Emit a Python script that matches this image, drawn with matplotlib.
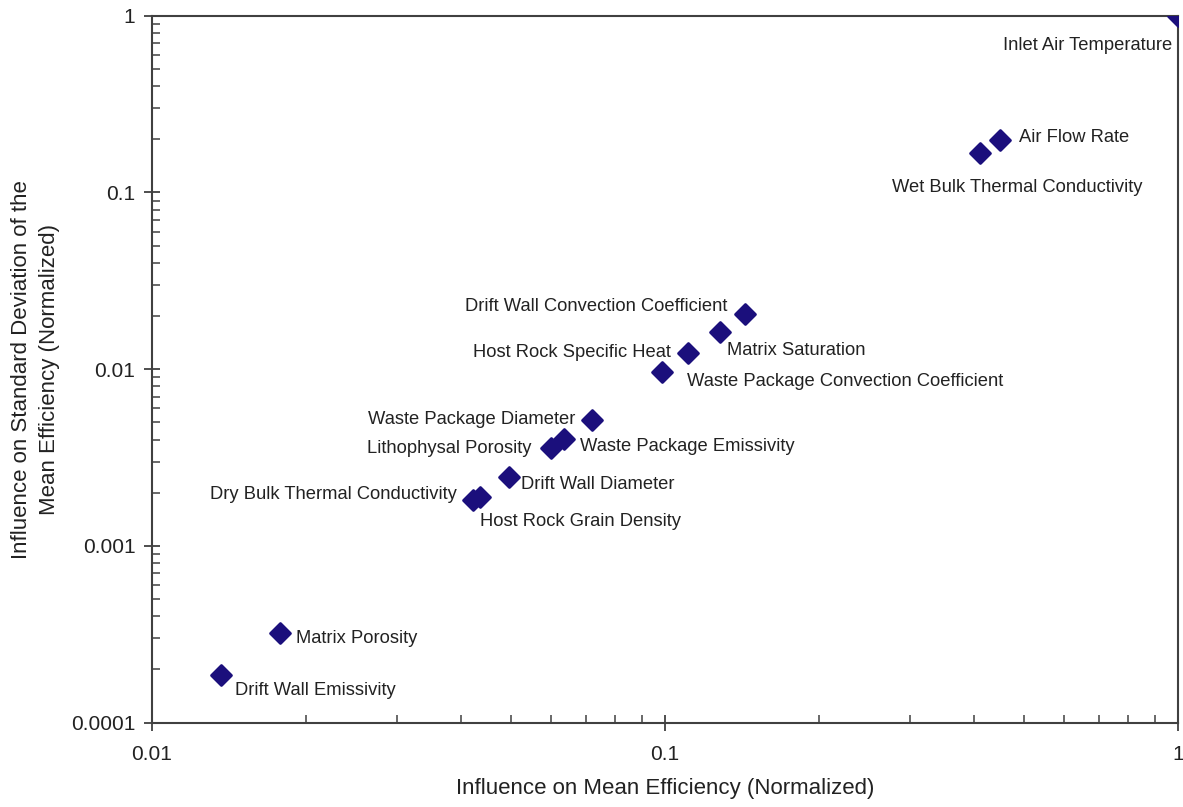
import matplotlib
matplotlib.use("Agg")
import matplotlib.pyplot as plt
from matplotlib.markers import MarkerStyle
from matplotlib.ticker import FixedLocator, LogLocator, NullFormatter

plt.rcParams['font.family'] = ['Liberation Sans', 'DejaVu Sans']

# Sensitivity of each parameter: influence on mean efficiency (x) and on
# the standard deviation of the mean efficiency (y), both normalized.
parameters = [
    "Inlet Air Temperature",
    "Air Flow Rate",
    "Wet Bulk Thermal Conductivity",
    "Drift Wall Convection Coefficient",
    "Matrix Saturation",
    "Host Rock Specific Heat",
    "Waste Package Convection Coefficient",
    "Waste Package Diameter",
    "Waste Package Emissivity",
    "Lithophysal Porosity",
    "Drift Wall Diameter",
    "Dry Bulk Thermal Conductivity",
    "Host Rock Grain Density",
    "Matrix Porosity",
    "Drift Wall Emissivity",
]
mean_influence = [1.0, 0.450, 0.411, 0.143, 0.128, 0.111, 0.0988, 0.0721,
                  0.0635, 0.0600, 0.0497, 0.0423, 0.0435, 0.0178, 0.0136]
std_influence = [1.0, 0.198, 0.168, 0.0205, 0.0163, 0.0124, 0.00964, 0.00516,
                 0.00403, 0.00357, 0.00246, 0.00182, 0.00190, 0.000321, 0.000186]

x_ticks = [0.01, 0.1, 1]
x_tick_labels = ["0.01", "0.1", "1"]
y_ticks = [0.0001, 0.001, 0.01, 0.1, 1]
y_tick_labels = ["0.0001", "0.001", "0.01", "0.1", "1"]

# Label placement: (offset in pixels from the point, horizontal alignment)
label_style = {
    "Inlet Air Temperature": ((-6, -30), "right"),
    "Air Flow Rate": ((19, 3), "left"),
    "Wet Bulk Thermal Conductivity": ((-88, -35), "left"),
    "Drift Wall Convection Coefficient": ((-17, 8), "right"),
    "Matrix Saturation": ((7, -19), "left"),
    "Host Rock Specific Heat": ((-17, 0), "right"),
    "Waste Package Convection Coefficient": ((25, -9), "left"),
    "Waste Package Diameter": ((-17, 0), "right"),
    "Waste Package Emissivity": ((16, -8), "left"),
    "Lithophysal Porosity": ((-20, 0), "right"),
    "Drift Wall Diameter": ((12, -8), "left"),
    "Dry Bulk Thermal Conductivity": ((-16, 5), "right"),
    "Host Rock Grain Density": ((0, -25), "left"),
    "Matrix Porosity": ((16, -5), "left"),
    "Drift Wall Emissivity": ((14, -15), "left"),
}

marker_color = "#1b0f7c"
axis_color = "#404040"
text_color = "#222222"

fig = plt.figure(figsize=(11.83, 8.07), dpi=100)
ax = fig.add_axes([0.1285, 0.1045, 0.8673, 0.876])

diamond = MarkerStyle("D", joinstyle="round")
ax.plot(mean_influence, std_influence, linestyle="none", marker=diamond,
        markersize=10.5, markerfacecolor=marker_color,
        markeredgecolor=marker_color, markeredgewidth=2.0,
        zorder=5, clip_on=True)

for name, xv, yv in zip(parameters, mean_influence, std_influence):
    (dx, dy), ha = label_style[name]
    ax.annotate(name, (xv, yv), xytext=(dx, dy), textcoords="offset pixels",
                ha=ha, va="center", fontsize=13.2, color=text_color)

ax.set_xscale("log")
ax.set_yscale("log")
ax.set_xlim(0.01, 1)
ax.set_ylim(0.0001, 1)

ax.xaxis.set_major_locator(FixedLocator(x_ticks))
ax.set_xticklabels(x_tick_labels)
ax.yaxis.set_major_locator(FixedLocator(y_ticks))
ax.set_yticklabels(y_tick_labels)
ax.xaxis.set_minor_locator(LogLocator(base=10, subs=range(2, 10)))
ax.yaxis.set_minor_locator(LogLocator(base=10, subs=range(2, 10)))
ax.xaxis.set_minor_formatter(NullFormatter())
ax.yaxis.set_minor_formatter(NullFormatter())

ax.tick_params(which="major", direction="inout", length=12, width=1.3,
               color=axis_color, labelsize=15, labelcolor=text_color, pad=6)
ax.tick_params(which="minor", direction="in", length=6, width=1.1,
               color=axis_color)
ax.tick_params(axis="x", which="major", pad=10)

for spine in ax.spines.values():
    spine.set_color(axis_color)
    spine.set_linewidth(1.5)

ax.set_xlabel("Influence on Mean Efficiency (Normalized)", fontsize=16,
              color=text_color, labelpad=10)
ax.set_ylabel("Influence on Standard Deviation of the\nMean Efficiency (Normalized)",
              fontsize=16, color=text_color, labelpad=8, linespacing=1.45)

fig.savefig("out.png", dpi=100, facecolor="white")
